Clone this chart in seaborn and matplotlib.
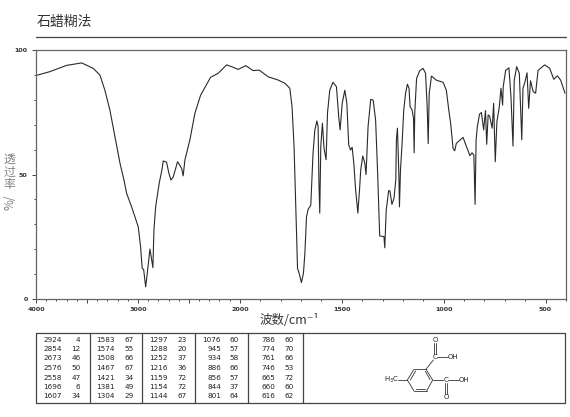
import numpy as np
import matplotlib
matplotlib.use('Agg')
import matplotlib.pyplot as plt
import seaborn as sns

# spectrum
wavenumber = [4000, 3863, 3700, 3552, 3438, 3373, 3324, 3275, 3225, 3176, 3137, 3111, 3062, 2997, 2974, 2958,
              2944, 2924, 2912, 2882, 2866, 2853, 2843, 2826, 2791, 2765, 2752, 2719, 2696, 2676, 2654, 2611,
              2571, 2556, 2539, 2490, 2441, 2385, 2287, 2213, 2130, 2081, 2017, 1971, 1935, 1905, 1861, 1812,
              1779, 1755, 1744, 1734, 1725, 1717, 1709, 1698, 1688, 1681, 1673, 1665, 1652, 1641, 1632, 1622,
              1616, 1612, 1608, 1603, 1595, 1587, 1577, 1570, 1559, 1543, 1526, 1515, 1508, 1498, 1485, 1475,
              1466, 1457, 1449, 1441, 1432, 1421, 1412, 1407, 1397, 1387, 1381, 1371, 1358, 1346, 1334, 1324,
              1318, 1314, 1293, 1289, 1282, 1270, 1264, 1254, 1244, 1235, 1232, 1227, 1220, 1217, 1212, 1204,
              1196, 1187, 1178, 1170, 1165, 1155, 1148, 1145, 1142, 1133, 1117, 1101, 1089, 1081, 1076, 1071,
              1060, 1035, 1003, 987, 975, 966, 954, 946, 938, 905, 888, 871, 861, 852, 846, 841,
              835, 824, 815, 804, 795, 789, 782, 775, 762, 755, 747, 739, 727, 719, 711, 708,
              696, 680, 670, 660, 654, 642, 629, 617, 611, 603, 591, 583, 574, 561, 549, 537,
              505, 480, 460, 442, 426, 405]
transmittance = [89.9, 91.5, 94, 95, 92.8, 90.1, 84, 76, 65.3, 54.6, 47.8, 42.5, 37, 29, 21, 12.2,
                 11.8, 4.8, 8.9, 20, 16, 12.5, 27.7, 37, 46.6, 51.8, 55.5, 55, 50.5, 47.8, 49, 55.2,
                 52.5, 49.5, 55.9, 64, 74.7, 82, 89.2, 90.8, 94.2, 93.5, 92.4, 93.9, 91.9, 92.1, 89.4, 88.1,
                 86.8, 84.8, 77.4, 61.2, 35.7, 12.2, 10.2, 6.5, 10.2, 18.3, 33, 36, 37.7, 58.6, 68, 71.6,
                 69.3, 46.6, 34.5, 61.2, 70.7, 60.6, 56, 74.8, 84, 87.2, 85.4, 73.3, 68, 78.7, 84, 78.7,
                 62, 59.9, 61, 54.6, 43.8, 34.5, 45, 51.9, 57.5, 54.6, 50, 69.3, 80.3, 80, 72, 50.5,
                 35.7, 25.3, 25, 20.5, 35.7, 43.5, 43.5, 38, 40.4, 47.8, 64, 68.7, 50.5, 37, 51.9, 62.6,
                 76, 82.8, 86.4, 84.8, 77.4, 76, 72.7, 58.8, 74.8, 88.8, 91.9, 92.8, 90.8, 77.4, 62.5, 82.8,
                 89.7, 88, 87.2, 84, 76, 70.7, 60.6, 59.6, 62.6, 65, 61.2, 57.6, 58.8, 57.9, 38, 64,
                 69.3, 74.4, 75, 68, 75.8, 62.2, 74, 73.6, 68.7, 78.7, 55.2, 71.3, 77.4, 84.8, 78, 85.4,
                 92, 93, 81.4, 61.5, 88, 93.5, 90.8, 64, 84.8, 86.8, 91, 76.7, 87.8, 83.4, 82.8, 92,
                 94.2, 92.8, 88.4, 89.8, 88, 82.8]

# peak table
peak_wn = [['2924', '2854', '2673', '2576', '2558', '1696', '1607'],
           ['1583', '1574', '1508', '1467', '1421', '1381', '1304'],
           ['1297', '1288', '1252', '1216', '1159', '1154', '1144'],
           ['1076', '945', '934', '886', '856', '844', '801'],
           ['786', '774', '761', '746', '665', '660', '616']]
peak_t = [['4', '12', '46', '50', '47', '6', '34'],
          ['67', '55', '66', '67', '34', '49', '29'],
          ['23', '20', '37', '36', '72', '72', '67'],
          ['60', '57', '58', '66', '57', '37', '64'],
          ['60', '70', '66', '53', '72', '60', '62']]

x_major = [4000, 3500, 3000, 2500, 2000, 1500, 1000, 500]
x_labels = ['4000', '', '3000', '', '2000', '1500', '1000', '500']
y_major = [0, 50, 100]

sns.set_style('white')
plt.rcParams['font.family'] = ['Noto Sans CJK SC', 'DejaVu Sans']

W, H = 570, 417
DARK = '#444444'


def forward(v):
    # the x axis doubles its scale below 2000 cm-1
    v = np.asarray(v, dtype=float)
    return np.where(v >= 2000, (4000 - v) * 0.5, 1000 + (2000 - v))


def inverse(u):
    u = np.asarray(u, dtype=float)
    return np.where(u <= 1000, 4000 - u * 2, 2000 - (u - 1000))


fig = plt.figure(figsize=(W / 100, H / 100), dpi=100)

# page layer in pixel coordinates for the title, table and formula
page = fig.add_axes([0, 0, 1, 1])
page.set_xlim(0, W)
page.set_ylim(H, 0)
page.axis('off')

ax = fig.add_axes([36 / W, 1 - 298.7 / H, 530 / W, 248.2 / H])
ax.patch.set_alpha(0)
ax.set_xscale('function', functions=(forward, inverse))
sns.lineplot(x=wavenumber, y=transmittance, ax=ax, sort=False, estimator=None, errorbar=None,
             color='#2a2a2a', linewidth=0.8)
ax.set_xticks(x_major)
ax.set_xticklabels(x_labels, fontsize=4.6, fontweight='bold', family='DejaVu Sans', color='#333333')
ax.set_xticks(np.arange(400, 4000, 100), minor=True)
ax.set_yticks(y_major)
ax.set_yticklabels(['0', '50', '100'], fontsize=4.6, fontweight='bold', family='DejaVu Sans', color='#333333')
ax.set_yticks(np.arange(0, 101, 10), minor=True)
ax.set_xlim(400, 4000)
if ax.transData.transform((4000, 0))[0] > ax.transData.transform((400, 0))[0]:
    ax.invert_xaxis()
ax.set_ylim(0, 100)
ax.tick_params(axis='both', which='major', length=3, width=0.7, color=DARK, pad=3, bottom=True, left=True)
ax.tick_params(axis='both', which='minor', length=1.5, width=0.7, color=DARK, bottom=True, left=True)
for spine in ax.spines.values():
    spine.set_color('#666666')
    spine.set_linewidth(0.9)
ax.set_xlabel('')
ax.set_ylabel('')

# heading
page.text(37, 22, '石蜡糊法', fontsize=10, color='#333333', va='center', ha='left')
page.plot([36, 566], [36.5, 36.5], color=DARK, lw=0.9)

# axis titles
page.text(9.5, 172, '透\n过\n率', fontsize=8.5, color='#808080', ha='center', va='center', linespacing=0.95)
page.text(9.5, 202, '%/', fontsize=8.5, color='#808080', rotation=90, ha='center', va='center')
page.text(289, 320, '波数/cm⁻¹', fontsize=9, color='#333333', ha='center', va='center')

# peak table
table_left, table_right, table_top, table_bottom = 36, 565, 333, 403
page.plot([table_left, table_right, table_right, table_left, table_left],
          [table_top, table_top, table_bottom, table_bottom, table_top], color=DARK, lw=0.9)
for xd in [90, 142, 195, 248, 303]:
    page.plot([xd, xd], [table_top, table_bottom], color=DARK, lw=0.9)

wn_right = [61.5, 115, 168, 221, 275]
t_right = [80.5, 134, 187, 239, 294]
row_y = [339.5, 349, 358.5, 368, 377.5, 387, 396.5]
for c in range(5):
    for r in range(7):
        page.text(wn_right[c], row_y[r], peak_wn[c][r], fontsize=5.2, family='DejaVu Sans',
                  color='#222222', ha='right', va='center')
        page.text(t_right[c], row_y[r], peak_t[c][r], fontsize=5.2, family='DejaVu Sans',
                  color='#222222', ha='right', va='center')

# structural formula, zoom pixels of the reference scaled back to the page
bonds = [((378, 118), (342, 118)), ((342, 118), (322, 150)), ((322, 150), (342, 183)),
         ((342, 183), (380, 183)), ((380, 183), (398, 150)), ((398, 150), (378, 118)),
         ((347, 123), (331, 150)), ((347, 177), (376, 177)), ((376, 124), (390, 149)),
         ((378, 118), (400, 90)), ((401, 72), (401, 40)), ((407, 72), (407, 40)),
         ((412, 82), (445, 82)), ((398, 150), (430, 150)), ((445, 150), (477, 150)),
         ((434, 160), (434, 192)), ((440, 160), (440, 192)), ((295, 150), (322, 150))]
for (x0, y0), (x1, y1) in bonds:
    page.plot([300 + x0 / 3, 300 + x1 / 3], [330 + y0 / 3, 330 + y1 / 3], color='#333333', lw=0.6)
atoms = [('O', 405, 30), ('C', 405, 82), ('OH', 460, 82), ('C', 437, 150), ('OH', 492, 150),
         ('O', 438, 201), ('H$_3$C', 275, 151)]
for label, xa, ya in atoms:
    page.text(300 + xa / 3, 330 + ya / 3, label, fontsize=5, family='DejaVu Sans', color='#222222',
              ha='center', va='center')

fig.savefig('out.png', dpi=100)
